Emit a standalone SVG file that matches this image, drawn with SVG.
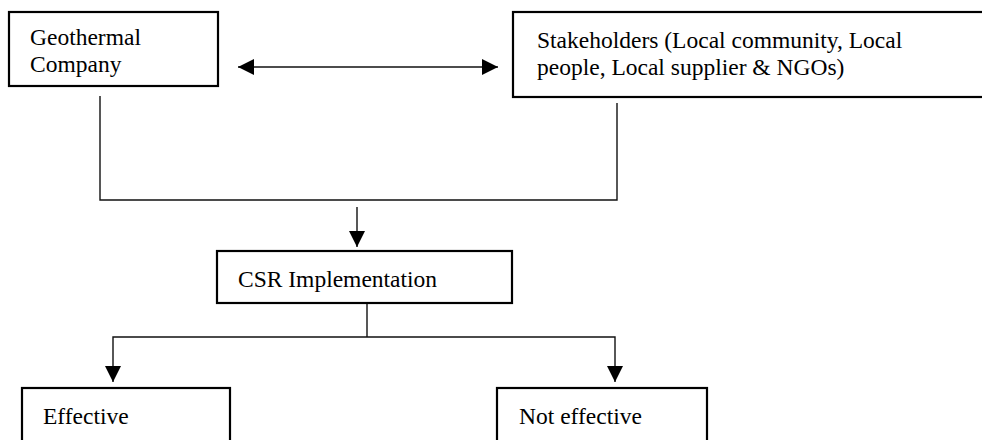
<svg xmlns="http://www.w3.org/2000/svg" width="982" height="440" viewBox="0 0 982 440">
<style>
.box{fill:#fff;stroke:#000;stroke-width:2.2}
.t{font-family:"Liberation Serif","Times New Roman",serif;font-size:23.5px;fill:#000}
.c{fill:none;stroke:#111;stroke-width:1.4}
</style>
<defs>
<marker id="ah" markerUnits="userSpaceOnUse" markerWidth="16" markerHeight="16" viewBox="0 0 16 16" refX="16" refY="8" orient="auto-start-reverse">
<path d="M0,0 L16,8 L0,16 Z" fill="#000"/>
</marker>
</defs>
<rect width="982" height="440" fill="#fff"/>
<g id="connectors">
<line class="c" x1="238" y1="67" x2="498" y2="67" marker-start="url(#ah)" marker-end="url(#ah)"/>
<polyline class="c" points="100,96 100,200 617,200 617,103"/>
<line class="c" x1="357" y1="207" x2="357" y2="247" marker-end="url(#ah)"/>
<line class="c" x1="367" y1="303" x2="367" y2="337"/>
<polyline class="c" points="113,382 113,337 615,337 615,382" marker-start="url(#ah)" marker-end="url(#ah)"/>
</g>
<g id="geothermal">
<rect class="box" x="9" y="12" width="209" height="74"/>
<text class="t" x="30" y="45">Geothermal</text>
<text class="t" x="30" y="72">Company</text>
</g>
<g id="stakeholders">
<rect class="box" x="513" y="12" width="480" height="85"/>
<text class="t" x="537" y="48">Stakeholders (Local community, Local</text>
<text class="t" x="537" y="75">people, Local supplier &amp; NGOs)</text>
</g>
<g id="csr">
<rect class="box" x="217" y="251" width="295" height="52"/>
<text class="t" x="238" y="287">CSR Implementation</text>
</g>
<g id="effective">
<rect class="box" x="22" y="388" width="208" height="70"/>
<text class="t" x="43" y="424">Effective</text>
</g>
<g id="not-effective">
<rect class="box" x="497" y="388" width="210" height="70"/>
<text class="t" x="519" y="424">Not effective</text>
</g>
</svg>
